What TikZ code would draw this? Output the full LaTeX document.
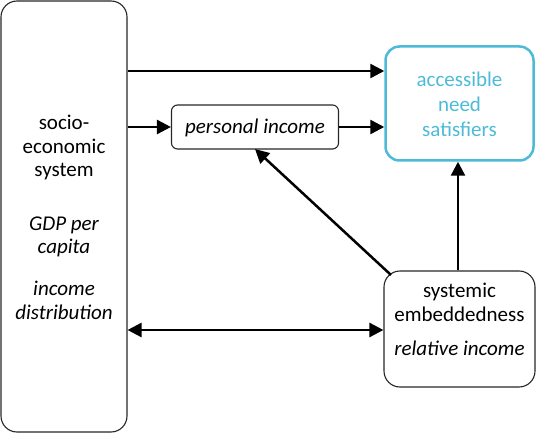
\documentclass[tikz,border=0pt]{standalone}
\usepackage{fontspec}
\setmainfont{Carlito}
\usetikzlibrary{arrows.meta}
\definecolor{acccyan}{RGB}{77,186,216}
\begin{document}
\begin{tikzpicture}[x=1pt,y=-1pt,
  box/.style={draw=black!85, line width=1.1pt, inner sep=0pt},
  lbl/.style={anchor=base, inner sep=0pt, font=\fontsize{21}{24}\selectfont},
  ilbl/.style={lbl, font=\fontsize{21}{24}\selectfont\itshape},
  conn/.style={line width=2.5pt, -{Triangle[length=14pt,width=14pt]}},
  dconn/.style={line width=2.5pt, {Triangle[length=14pt,width=14pt]}-{Triangle[length=14pt,width=14pt]}}]
\useasboundingbox (0,0) rectangle (536,433);
% boxes
\node[box, rounded corners=16pt, minimum width=126pt, minimum height=431pt] (ses) at (64,216.5) {};
\node[box, draw=acccyan, line width=2.5pt, rounded corners=14pt, minimum width=148pt, minimum height=114pt] (acc) at (459.5,103.5) {};
\node[box, rounded corners=6pt, minimum width=167pt, minimum height=44pt] (pi) at (255,127) {};
\node[box, rounded corners=16pt, minimum width=151pt, minimum height=116pt] (se) at (459.5,329) {};
% texts
\node[lbl] (t1) at (64,130) {socio-};
\node[lbl] (t2) at (64,153.5) {economic};
\node[lbl] (t3) at (64,177) {system};
\node[ilbl] (t4) at (64,230) {GDP per};
\node[ilbl] (t5) at (64,253.5) {capita};
\node[ilbl] (t6) at (64,295.5) {income};
\node[ilbl] (t7) at (64,319) {distribution};
\node[lbl, text=acccyan] (a1) at (459.5,87) {accessible};
\node[lbl, text=acccyan] (a2) at (459.5,111.5) {need};
\node[lbl, text=acccyan] (a3) at (459.5,136.5) {satisfiers};
\node[ilbl] (p1) at (255,134) {personal income};
\node[lbl] (s1) at (459.5,297) {systemic};
\node[lbl] (s2) at (459.5,321.5) {embeddedness};
\node[ilbl] (s3) at (459.5,355) {relative income};
% connectors
\coordinate (ses71) at (ses.east |- 0,71);
\coordinate (acc71) at (acc.west |- 0,71);
\coordinate (ses127) at (ses.east |- pi.west);
\coordinate (ses330) at (ses.east |- 0,330);
\coordinate (se330) at (se.west |- 0,330);
\coordinate (pib) at (255,149);
\coordinate (sec) at (391,275);
\draw[conn] (ses71) -- (acc71);
\draw[conn] (ses127) -- (pi.west);
\draw[conn] (pi.east) -- (acc.west |- pi.east);
\draw[conn] (sec) -- (pib);
\draw[conn] (se.north -| 458,0) -- (acc.south -| 458,0);
\draw[dconn] (ses330) -- (se330);
\end{tikzpicture}
\end{document}
